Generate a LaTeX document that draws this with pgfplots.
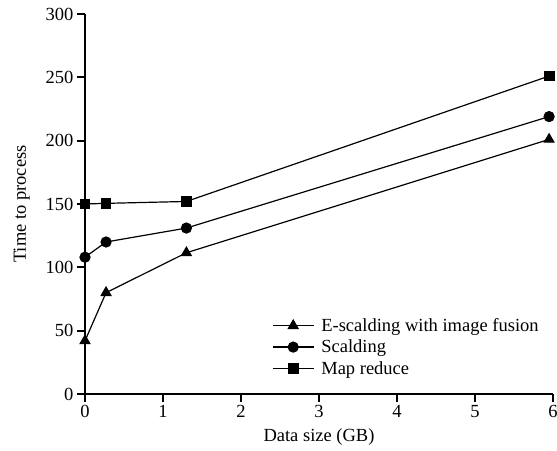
\documentclass[border=0pt]{standalone}
\usepackage{fontspec}
\setmainfont{Liberation Serif}
\usepackage{pgfplots}
\pgfplotsset{compat=1.18}

\begin{document}
\begin{tikzpicture}
\begin{axis}[
  name=ax,
  scale only axis,
  width=468pt,
  height=380pt,
  xmin=0, xmax=6,
  ymin=0, ymax=300,
  axis x line*=bottom,
  axis y line*=left,
  axis line style={line width=1.8pt},
  xtick={0,1,...,6},
  ytick={0,50,...,300},
  tick align=outside,
  major tick length=8pt,
  tick style={line width=1.8pt,black},
  /pgf/number format/assume math mode=true,
  tick label style={font=\fontsize{18.5}{20}\selectfont},
  label style={font=\fontsize{18.5}{20}\selectfont},
  xlabel={Data size (GB)},
  ylabel={Time to process},
  ylabel style={at={(axis description cs:-0.135,0.5)},anchor=center},
  xlabel style={at={(axis description cs:0.5,-0.113)},anchor=center},
  clip=false,
  every axis plot/.append style={line width=1.2pt,black},
  legend cell align=left,
  legend style={draw=none,fill=none,at={(0.393,0.21)},anchor=north west,
    font=\fontsize{18.5}{20}\selectfont,row sep=3pt,
    legend image code/.code={\draw[#1,mark repeat=2,mark phase=2] plot coordinates {(0pt,0pt)(20.5pt,0pt)(41pt,0pt)};}},
]
\addplot[mark=triangle*,mark size=5.5pt] coordinates {(0,42) (0.27,80) (1.3,111.5) (5.95,201)};
\addplot[mark=*,mark size=5pt] coordinates {(0,108) (0.27,120) (1.3,131) (5.95,219)};
\addplot[mark=square*,mark size=4.8pt] coordinates {(0,150) (0.27,150.5) (1.3,152) (5.95,251)};
\legend{\hspace{5pt}E-scalding with image fusion,\hspace{5pt}Scalding,\hspace{5pt}Map reduce}
\end{axis}
\pgfresetboundingbox
\useasboundingbox ([xshift=-85pt,yshift=-57pt]ax.south west) rectangle ([xshift=4pt,yshift=14pt]ax.north east);
\end{tikzpicture}
\end{document}
